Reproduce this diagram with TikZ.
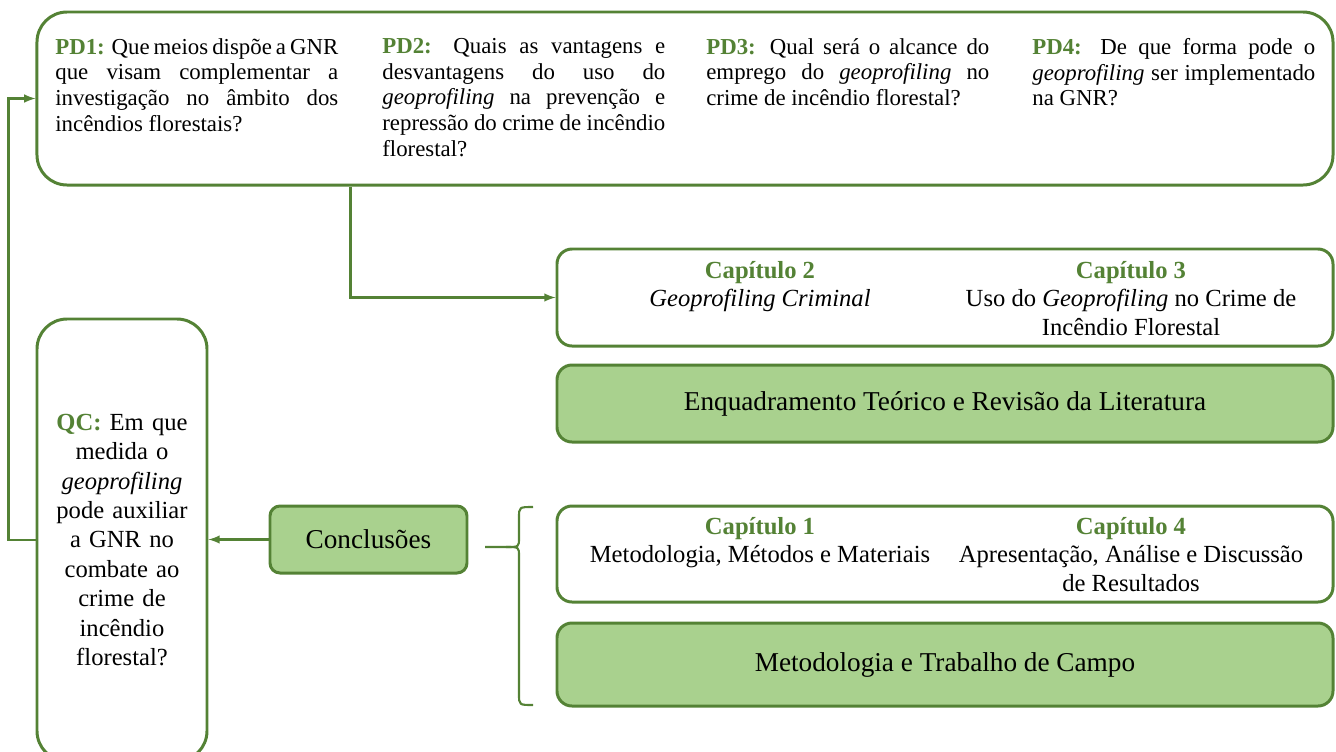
\documentclass[tikz,border=0pt]{standalone}
\usepackage{fontspec}
\setmainfont{Liberation Serif}
\usetikzlibrary{arrows}
\definecolor{verde}{RGB}{84,130,53}
\definecolor{verdeclaro}{RGB}{169,209,142}
\newcommand{\pd}[1]{\textcolor{verde}{\textbf{#1}}}
\hyphenpenalty=10000

\begin{document}
\begin{tikzpicture}[x=0.2mm,y=-0.2mm,
  caixa/.style={draw=verde, line width=1.7pt, fill=white, rounded corners=3mm},
  cheia/.style={caixa, fill=verdeclaro, font=\fontsize{15.5}{18}\selectfont},
  liga/.style={draw=verde, line width=1.2pt, -latex},
  pergunta/.style={anchor=north west, inner sep=0pt, text width=56.6mm, align=justify,
    font=\fontsize{13}{14.6}\selectfont},
  capitulo/.style={anchor=north, inner sep=0pt, align=center, font=\fontsize{14}{16.2}\selectfont}]
  \useasboundingbox (0,0) rectangle (1336,751);
  \clip (0,0) rectangle (1336,751);

  % caixa das perguntas derivadas
  \node[caixa, rounded corners=6mm, minimum width=259.2mm, minimum height=34.6mm] (top) at (685,98.5) {};
  \node[pergunta] (pd1) at (55,38) {\pd{PD1:} Que meios dispõe a GNR\linebreak que visam complementar a\linebreak investigação no âmbito dos\linebreak incêndios florestais?};
  \node[pergunta] (pd2) at (382,38) {\pd{PD2:} Quais as vantagens e\linebreak desvantagens do uso do\linebreak \textit{geoprofiling} na prevenção e\linebreak repressão do crime de incêndio\linebreak florestal?};
  \node[pergunta] (pd3) at (706,38) {\pd{PD3:} Qual será o alcance do\linebreak emprego do \textit{geoprofiling} no\linebreak crime de incêndio florestal?};
  \node[pergunta] (pd4) at (1032,38) {\pd{PD4:} De que forma pode o\linebreak \textit{geoprofiling} ser implementado\linebreak na GNR?};

  % pergunta central e conclusoes
  \node[caixa, rounded corners=6mm, minimum width=34mm, minimum height=88.4mm, text width=30mm, align=center,
    font=\fontsize{14}{16.7}\selectfont] (qc) at (122,540)
    {\pd{QC:} Em que\\medida o\\\textit{geoprofiling}\\pode auxiliar\\a GNR no\\combate ao\\crime de\\incêndio\\florestal?};
  \node[cheia, rounded corners=2mm, minimum width=39.4mm, minimum height=13.4mm] (concl) at (368.5,539.5) {Conclusões};

  % capitulos
  \node[caixa, minimum width=155.2mm, minimum height=19.4mm] (capA) at (945,297.5) {};
  \node[capitulo] (cap2) at (760,261) {\pd{Capítulo 2}\\\textit{Geoprofiling Criminal}};
  \node[capitulo] (cap3) at (1131,261) {\pd{Capítulo 3}\\Uso do \textit{Geoprofiling} no Crime de\\Incêndio Florestal};
  \node[cheia, minimum width=155.2mm, minimum height=15.4mm] (teoria) at (945,403.5) {Enquadramento Teórico e Revisão da Literatura};

  \node[caixa, minimum width=155.2mm, minimum height=19.2mm] (capB) at (945,554) {};
  \node[capitulo] (cap1) at (760,517) {\pd{Capítulo 1}\\Metodologia, Métodos e Materiais};
  \node[capitulo] (cap4) at (1131,517) {\pd{Capítulo 4}\\Apresentação, Análise e Discussão\\de Resultados};
  \node[cheia, minimum width=155.2mm, minimum height=16.6mm] (campo) at (945,664.5) {Metodologia e Trabalho de Campo};

  % ligacoes
  \draw[liga] (concl.west) -- (concl.west -| qc.east);
  \draw[liga] (qc.west) -- ++(-27,0) |- (top.west);
  \draw[liga] ([xshift=63mm]top.south west) |- (capA.west);

  % chaveta
  \draw[verde, line width=1.2pt] (533,507) .. controls (519,507) .. (519,518) -- (519,538)
    .. controls (519,547) .. (506,547) -- (485,547);
  \draw[verde, line width=1.2pt] (506,547) .. controls (519,547) .. (519,556) -- (519,694)
    .. controls (519,705) .. (533,705);
\end{tikzpicture}
\end{document}
